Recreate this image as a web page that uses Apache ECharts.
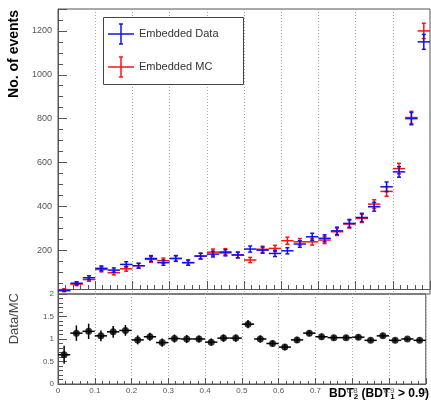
<!DOCTYPE html>
<html><head><meta charset="utf-8">
<script src="https://cdn.jsdelivr.net/npm/echarts@6/dist/echarts.min.js"></script>
<style>html,body{margin:0;padding:0;background:#fff}#c{width:431px;height:404px}</style>
</head><body><div id="c"></div>
<script>
const nBins = 30, xMin = 0, xMax = 1;
const dataCounts = [15,49,74,117,109,135,129,162,143,162,143,173,182,188,178,205,200,185,197,228,261,254,288,322,349,398,489,557,800,1150];
const dataErr    = [4,7,9,11,10,12,11,13,12,13,12,13,13,14,13,14,14,14,14,15,16,16,17,18,19,20,22,24,28,34];
const mcCounts   = [20,45,66,112,97,115,129,158,152,162,143,173,191,193,178,155,204,208,243,238,238,246,284,319,345,410,468,572,805,1200];
const mcErr      = [4,7,8,11,10,11,11,13,12,13,12,13,14,14,13,12,14,14,16,15,15,16,17,18,19,20,22,24,28,35];
const ratioVals  = [0.65,1.13,1.17,1.07,1.16,1.19,0.98,1.05,0.92,1.01,1.0,1.0,0.93,1.02,1.02,1.33,1.0,0.9,0.82,0.98,1.13,1.05,1.03,1.03,1.04,0.97,1.07,0.97,1.0,0.97];
const ratioErr   = [0.2,0.17,0.17,0.12,0.13,0.12,0.1,0.09,0.09,0.09,0.09,0.08,0.08,0.08,0.08,0.09,0.08,0.07,0.07,0.07,0.07,0.07,0.06,0.06,0.06,0.05,0.05,0.05,0.04,0.04];
const xTickLabels = ['0','0.1','0.2','0.3','0.4','0.5','0.6','0.7','0.8','0.9','1'];
const legendNames = ['Embedded Data','Embedded MC'];

const bw = (xMax - xMin) / nBins;
function mk(vals, errs){ return vals.map((v,i)=>[xMin + (i+0.5)*bw, v, errs[i]]); }

function errRender(color, cap){
  return function(params, api){
    const x = api.value(0), y = api.value(1), e = api.value(2);
    const pL = api.coord([x-bw/2, y]), pR = api.coord([x+bw/2, y]);
    const pT = api.coord([x, y+e]), pB = api.coord([x, y-e]);
    const st = {stroke: color, lineWidth: 1.5};
    const ch = [
      {type:'line', shape:{x1:pL[0], y1:pL[1], x2:pR[0], y2:pR[1]}, style: st},
      {type:'line', shape:{x1:pT[0], y1:pT[1], x2:pB[0], y2:pB[1]}, style: st}
    ];
    if (cap) {
      ch.push({type:'line', shape:{x1:pT[0]-cap, y1:pT[1], x2:pT[0]+cap, y2:pT[1]}, style: st});
      ch.push({type:'line', shape:{x1:pB[0]-cap, y1:pB[1], x2:pB[0]+cap, y2:pB[1]}, style: st});
    }
    return {type:'group', children: ch};
  };
}

const FONT = 'Liberation Sans';
const axisCol = '#555';
const gridLine = {show:true, lineStyle:{color:'#aaa', type:[1,2], width:1}};
const blue = '#1010ee', red = '#ff1010';

function legendEntry(y, color, text){
  return [
    {type:'line', z:12, shape:{x1:108, y1:y, x2:134, y2:y}, style:{stroke:color, lineWidth:1.5}},
    {type:'line', z:12, shape:{x1:121, y1:y-10, x2:121, y2:y+10}, style:{stroke:color, lineWidth:1.5}},
    {type:'line', z:12, shape:{x1:119, y1:y-10, x2:123, y2:y-10}, style:{stroke:color, lineWidth:1.5}},
    {type:'line', z:12, shape:{x1:119, y1:y+10, x2:123, y2:y+10}, style:{stroke:color, lineWidth:1.5}},
    {type:'text', z:12, x:139, y:y, style:{text:text, font:'11px '+FONT, fill:'#333', verticalAlign:'middle'}}
  ];
}

const chart = echarts.init(document.getElementById('c'), null, {renderer:'canvas'});
chart.setOption({
  animation:false,
  backgroundColor:'#fff',
  grid:[
    {left:58, right:1, top:9, height:285, show:true, borderColor:axisCol, borderWidth:1, backgroundColor:'transparent'},
    {left:58, right:1, top:294, height:90, show:true, borderColor:axisCol, borderWidth:1, backgroundColor:'transparent'}
  ],
  xAxis:[
    {gridIndex:0, type:'value', min:xMin, max:xMax, interval:0.1, offset:-5,
     axisLine:{lineStyle:{color:axisCol}}, axisLabel:{show:false},
     axisTick:{inside:true, length:8, lineStyle:{color:axisCol}},
     minorTick:{show:true, splitNumber:5, length:4, lineStyle:{color:axisCol}},
     splitLine:gridLine},
    {gridIndex:1, type:'value', min:xMin, max:xMax, interval:0.1,
     axisLine:{lineStyle:{color:axisCol}},
     axisLabel:{color:'#555', fontSize:8, fontFamily:FONT, margin:3,
       formatter:(v)=>xTickLabels[Math.round(v*10)]},
     axisTick:{inside:true, length:6, lineStyle:{color:axisCol}},
     minorTick:{show:true, splitNumber:5, length:3, lineStyle:{color:axisCol}},
     splitLine:gridLine}
  ],
  yAxis:[
    {gridIndex:0, type:'value', min:0, max:1300, interval:200,
     axisLine:{show:true, lineStyle:{color:axisCol}},
     axisLabel:{color:'#555', fontSize:9, fontFamily:FONT, margin:6, showMaxLabel:false,
       formatter:(v)=> v===0 ? '' : String(v)},
     axisTick:{inside:true, length:9, lineStyle:{color:axisCol}},
     minorTick:{show:true, splitNumber:4, length:5, lineStyle:{color:axisCol}},
     splitLine:{show:false}},
    {gridIndex:1, type:'value', min:0, max:2, interval:0.5,
     axisLine:{show:true, lineStyle:{color:axisCol}},
     axisLabel:{color:'#555', fontSize:8, fontFamily:FONT, margin:4},
     axisTick:{inside:true, length:9, lineStyle:{color:axisCol}},
     minorTick:{show:true, splitNumber:5, length:5, lineStyle:{color:axisCol}},
     splitLine:{show:false}}
  ],
  series:[
    {type:'custom', name:legendNames[1], xAxisIndex:0, yAxisIndex:0,
     renderItem:errRender(red, 2), data:mk(mcCounts, mcErr), z:2},
    {type:'custom', name:legendNames[0], xAxisIndex:0, yAxisIndex:0,
     renderItem:errRender(blue, 2), data:mk(dataCounts, dataErr), z:3},
    {type:'custom', name:'ratioErr', xAxisIndex:1, yAxisIndex:1,
     renderItem:errRender('#000', 0), data:mk(ratioVals, ratioErr), z:2},
    {type:'scatter', name:'ratio', xAxisIndex:1, yAxisIndex:1, symbol:'circle', symbolSize:7,
     itemStyle:{color:'#000'}, data:mk(ratioVals, ratioErr).map(d=>[d[0], d[1]]), z:3}
  ],
  graphic:[
    {type:'text', left:7, top:10, rotation:Math.PI/2, style:{text:'No. of events', font:'bold 14px '+FONT, fill:'#000'}},
    {type:'text', left:8, top:293, rotation:Math.PI/2, style:{text:'Data/MC', font:'13px '+FONT, fill:'#444'}},
    {type:'text', right:2, top:388, style:{
      text:'{b|BDT}{s|2}{b| (BDT}{s|1}{b| > 0.9)}',
      rich:{b:{font:'bold 12px '+FONT, fill:'#000'}, s:{font:'bold 8px '+FONT, fill:'#000', verticalAlign:'bottom', padding:[6,0,0,0]}}
    }},
    {type:'rect', z:10, shape:{x:103.5, y:17.5, width:140, height:67}, style:{fill:'#fff', stroke:'#444', lineWidth:1}}
  ].concat(legendEntry(34, blue, legendNames[0]), legendEntry(67, red, legendNames[1]))
});
</script>
</body></html>
